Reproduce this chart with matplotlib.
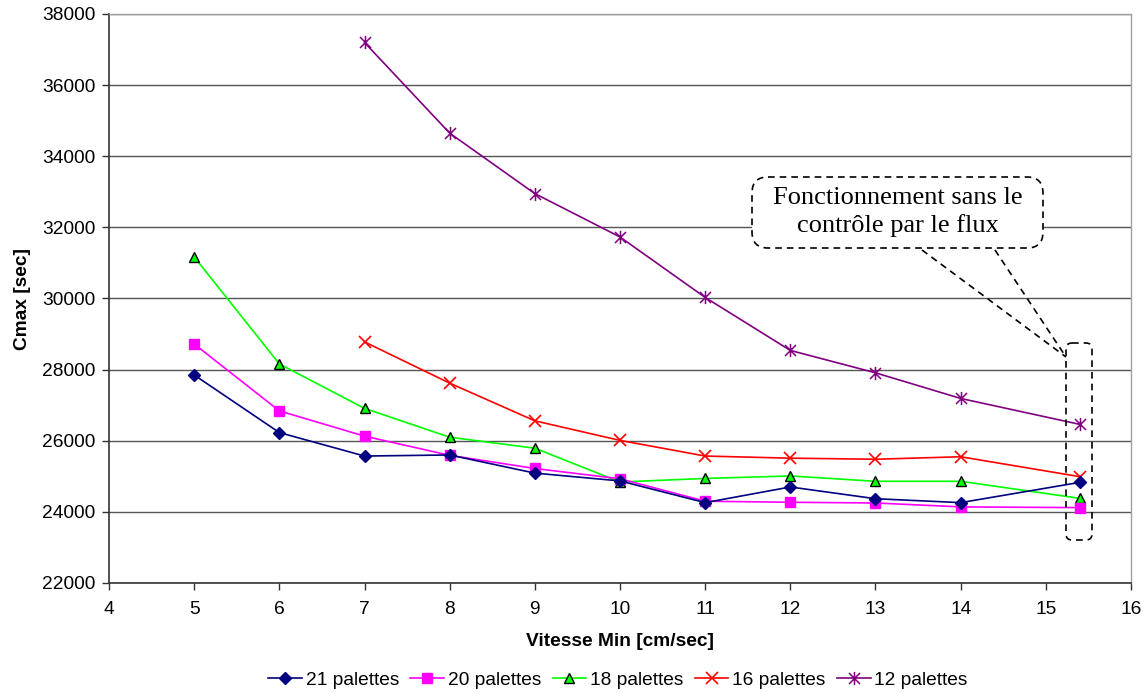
import matplotlib
matplotlib.use("Agg")
import matplotlib.pyplot as plt
from matplotlib.path import Path
from matplotlib.patches import FancyBboxPatch

# ---- data ----
x_main = [5, 6, 7, 8, 9, 10, 11, 12, 13, 14, 15.4]
x_late = [7, 8, 9, 10, 11, 12, 13, 14, 15.4]

p21 = [27850, 26230, 25570, 25600, 25090, 24870, 24260, 24700, 24370, 24260, 24830]
p20 = [28720, 26840, 26130, 25590, 25220, 24930, 24300, 24270, 24250, 24140, 24120]
p18 = [31170, 28160, 26910, 26100, 25790, 24840, 24940, 25010, 24860, 24860, 24380]
p16 = [28780, 27620, 26560, 26010, 25570, 25510, 25480, 25550, 24990]
p12 = [37200, 34650, 32950, 31730, 30030, 28540, 27910, 27190, 26460]

labels = ["21 palettes", "20 palettes", "18 palettes", "16 palettes", "12 palettes"]
colors = ["#000080", "#FF00FF", "#00FF00", "#FF0000", "#800080"]

xticks = list(range(4, 17))
yticks = list(range(22000, 38001, 2000))

annot_text = "Fonctionnement sans le\ncontrôle par le flux"

# ---- figure ----
W, H = 1146, 693
fig = plt.figure(figsize=(W / 100, H / 100), dpi=100)
L, R, T, B = 109, 1131, 14, 583
ax = fig.add_axes([L / W, 1 - B / H, (R - L) / W, (B - T) / H])

star = Path([(-1, -1), (1, 1), (-1, 1), (1, -1), (0, -1.2), (0, 1.2)],
            [Path.MOVETO, Path.LINETO, Path.MOVETO, Path.LINETO, Path.MOVETO, Path.LINETO])

lw = 1.2
ax.plot(x_main, p21, color=colors[0], lw=lw, marker="D", ms=6.5, mfc=colors[0], mec=colors[0], label=labels[0], zorder=5)
ax.plot(x_main, p20, color=colors[1], lw=lw, marker="s", ms=7.5, mfc=colors[1], mec=colors[1], label=labels[1], zorder=4)
ax.plot(x_main, p18, color=colors[2], lw=lw, marker="^", ms=7.5, mfc=colors[2], mec="black", mew=1.0, label=labels[2], zorder=3)
ax.plot(x_late, p16, color=colors[3], lw=lw, marker="x", ms=8.5, mec=colors[3], mew=1.2, label=labels[3], zorder=3)
ax.plot(x_late, p12, color=colors[4], lw=lw, marker=star, ms=9.5, mec=colors[4], mew=1.1, label=labels[4], zorder=3)

ax.set_xlim(4, 16)
ax.set_ylim(22000, 38000)
ax.set_xticks(xticks)
ax.set_yticks(yticks)
ax.set_xticklabels([str(v) for v in xticks])
ax.set_yticklabels([str(v) for v in yticks])

font = "Liberation Sans"
fs = 13.8
for t in ax.get_xticklabels() + ax.get_yticklabels():
    t.set_fontfamily(font)
    t.set_fontsize(fs)
ax.tick_params(axis="both", direction="out", length=5, width=1, color="#333333", pad=5)
ax.tick_params(axis="x", pad=8)

ax.yaxis.grid(True, color="#555555", lw=1.0)
ax.set_axisbelow(True)
for s in ["top", "right"]:
    ax.spines[s].set_color("#a0a0a0")
    ax.spines[s].set_linewidth(1.0)
for s in ["left", "bottom"]:
    ax.spines[s].set_color("#333333")
    ax.spines[s].set_linewidth(1.2)

ax.set_xlabel("Vitesse Min [cm/sec]", fontfamily=font, fontsize=fs, fontweight="bold", labelpad=11)
ax.set_ylabel("Cmax [sec]", fontfamily=font, fontsize=fs, fontweight="bold", labelpad=8)

leg = fig.legend(loc="center", bbox_to_anchor=(618 / W, 1 - 680 / H), ncol=5, frameon=False,
                 prop={"family": font, "size": fs}, handlelength=1.75, handletextpad=0.2,
                 columnspacing=0.6, borderaxespad=0)

# ---- callout overlay in pixel coords ----
ov = fig.add_axes([0, 0, 1, 1], facecolor="none")
ov.set_xlim(0, W)
ov.set_ylim(H, 0)
ov.axis("off")

dash = (0, (4, 3))
box = FancyBboxPatch((752, 177), 1043 - 752, 248 - 177,
                     boxstyle="round,pad=0,rounding_size=16",
                     fill=True, facecolor="white", edgecolor="black", lw=1.2, linestyle=dash)
ov.add_patch(box)
small = FancyBboxPatch((1066, 343), 1092 - 1066, 540 - 343,
                       boxstyle="round,pad=0,rounding_size=6",
                       fill=False, edgecolor="black", lw=1.2, linestyle=dash)
ov.add_patch(small)
ov.plot([922, 1066], [250, 357], color="black", lw=1.2, linestyle=dash)
ov.plot([995, 1066], [250, 357], color="black", lw=1.2, linestyle=dash)
ov.text(898, 212, annot_text, ha="center", va="center", fontfamily="Liberation Serif",
        fontsize=19, linespacing=1.3)

fig.savefig("out.png", dpi=100)
